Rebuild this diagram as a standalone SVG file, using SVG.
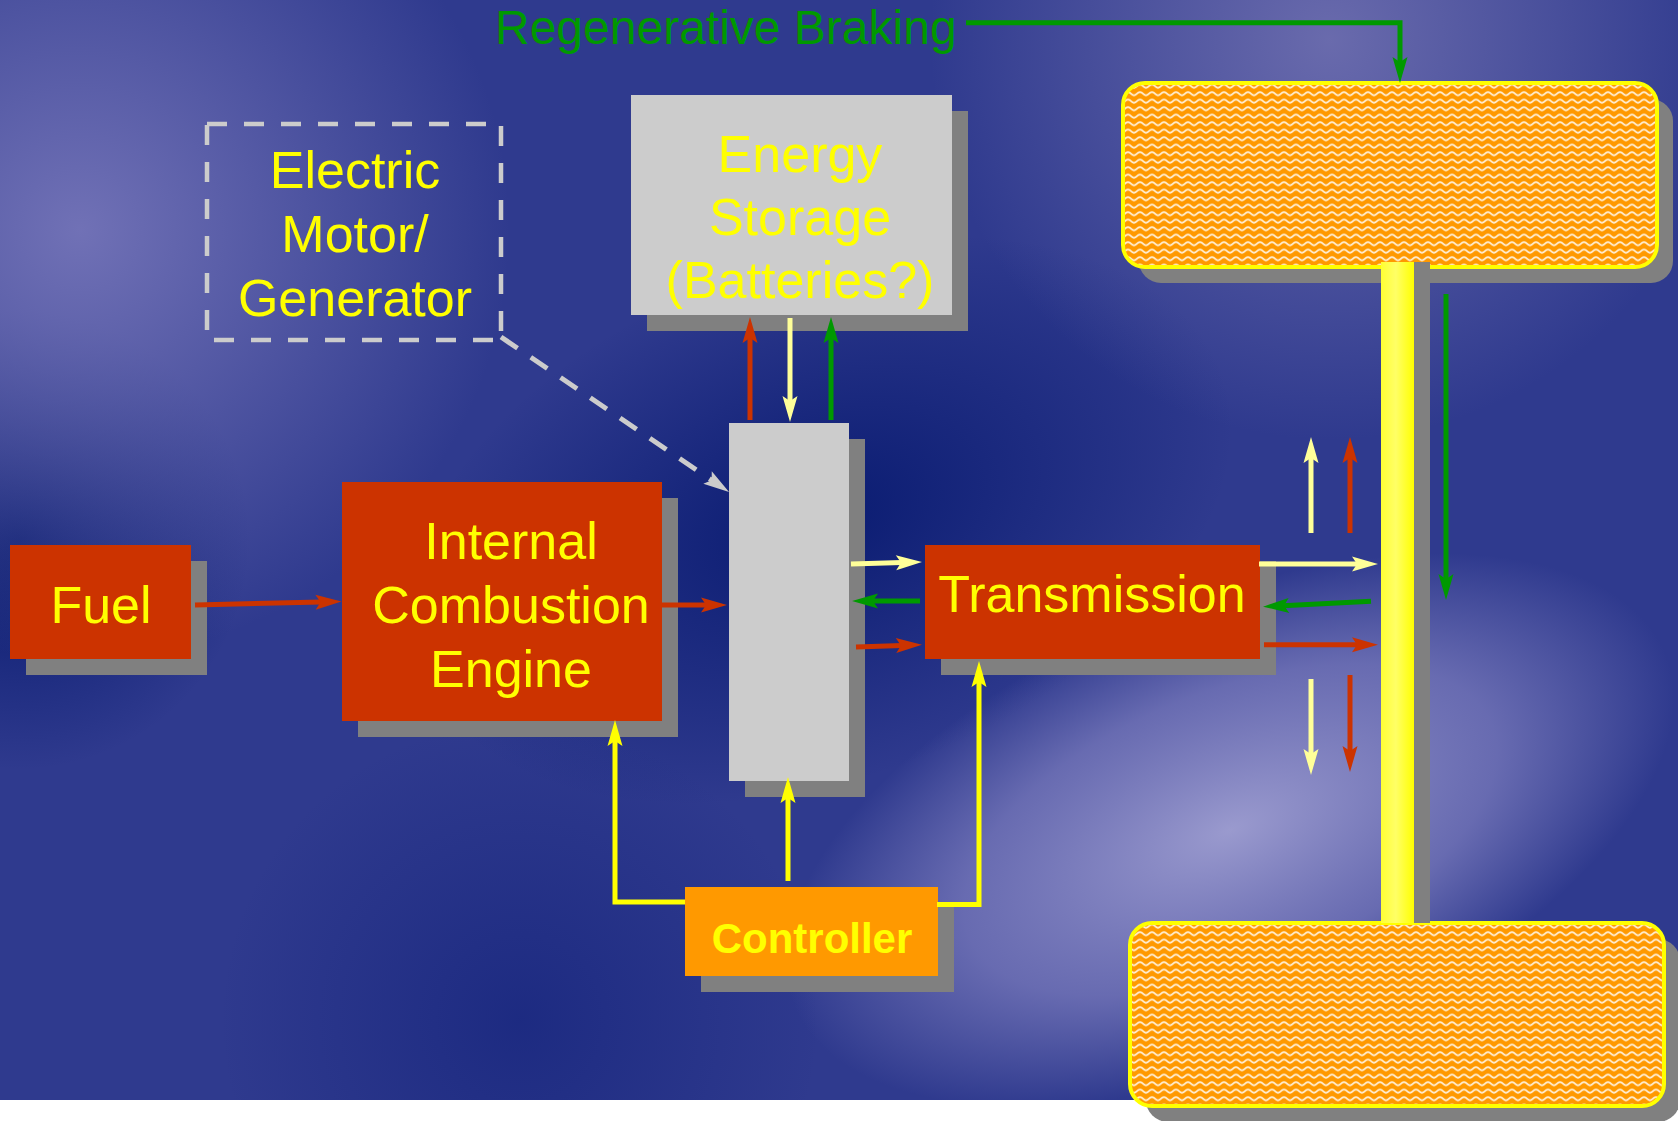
<svg xmlns="http://www.w3.org/2000/svg" width="1678" height="1121" viewBox="0 0 1678 1121">
<style>
.t{font-family:"Liberation Sans",Arial,sans-serif;fill:#FFFF00;font-size:52px;text-anchor:middle}
.sh{fill:#808080}
.red{fill:#CC3300}
.gry{fill:#CCCCCC}
.c{fill:none;stroke-width:5}
.cR{stroke:#CC3300}
.cL{stroke:#FFFF99}
.cG{stroke:#009900}
.cY{stroke:#FFFF00}
.wheel{fill:url(#wave);stroke:#FFFF00;stroke-width:4}
</style>
<defs>
<radialGradient id="g1" gradientUnits="userSpaceOnUse" cx="80" cy="230" r="430"><stop offset="0" stop-color="#7474B8" stop-opacity="0.95"/><stop offset="1" stop-color="#7474B8" stop-opacity="0"/></radialGradient>
<radialGradient id="g2" gradientUnits="userSpaceOnUse" cx="1330" cy="40" r="400"><stop offset="0" stop-color="#7070B0" stop-opacity="0.9"/><stop offset="1" stop-color="#7070B0" stop-opacity="0"/></radialGradient>
<radialGradient id="g3" gradientUnits="userSpaceOnUse" cx="0" cy="0" r="1" gradientTransform="translate(1230 830) rotate(-22) scale(470 230)"><stop offset="0" stop-color="#9A9ACE" stop-opacity="1"/><stop offset="0.6" stop-color="#8080C0" stop-opacity="0.7"/><stop offset="1" stop-color="#8080C0" stop-opacity="0"/></radialGradient>
<radialGradient id="g4" gradientUnits="userSpaceOnUse" cx="0" cy="0" r="1" gradientTransform="translate(820 520) rotate(-20) scale(430 260)"><stop offset="0" stop-color="#081A70" stop-opacity="0.95"/><stop offset="1" stop-color="#081A70" stop-opacity="0"/></radialGradient>
<radialGradient id="g5" gradientUnits="userSpaceOnUse" cx="20" cy="540" r="230"><stop offset="0" stop-color="#05186C" stop-opacity="0.95"/><stop offset="1" stop-color="#05186C" stop-opacity="0"/></radialGradient>
<radialGradient id="g6" gradientUnits="userSpaceOnUse" cx="520" cy="1020" r="300"><stop offset="0" stop-color="#15247C" stop-opacity="0.7"/><stop offset="1" stop-color="#15247C" stop-opacity="0"/></radialGradient>
<linearGradient id="axle" x1="0" y1="0" x2="1" y2="0"><stop offset="0" stop-color="#FFFF33"/><stop offset="0.45" stop-color="#FFFF66"/><stop offset="1" stop-color="#FFFF00"/></linearGradient>
<pattern id="wave" patternUnits="userSpaceOnUse" width="12" height="7.5">
<rect width="12" height="7.5" fill="#FF9900"/>
<path d="M-3,3.7 Q0,0.4 3,3.7 T9,3.7 T15,3.7" fill="none" stroke="#FFFFFF" stroke-opacity="0.85" stroke-width="1.8"/>
</pattern>
<marker id="aR" viewBox="-27 -8 28 16" refX="-20" refY="0" markerWidth="28" markerHeight="16" markerUnits="userSpaceOnUse" orient="auto"><path d="M0,0 L-26,-7.5 L-21,0 L-26,7.5 Z" fill="#CC3300"/></marker>
<marker id="aL" viewBox="-27 -8 28 16" refX="-20" refY="0" markerWidth="28" markerHeight="16" markerUnits="userSpaceOnUse" orient="auto"><path d="M0,0 L-26,-7.5 L-21,0 L-26,7.5 Z" fill="#FFFF99"/></marker>
<marker id="aG" viewBox="-27 -8 28 16" refX="-20" refY="0" markerWidth="28" markerHeight="16" markerUnits="userSpaceOnUse" orient="auto"><path d="M0,0 L-26,-7.5 L-21,0 L-26,7.5 Z" fill="#009900"/></marker>
<marker id="aY" viewBox="-27 -8 28 16" refX="-20" refY="0" markerWidth="28" markerHeight="16" markerUnits="userSpaceOnUse" orient="auto"><path d="M0,0 L-26,-7.5 L-21,0 L-26,7.5 Z" fill="#FFFF00"/></marker>
<marker id="aW" viewBox="-27 -8 28 16" refX="-20" refY="0" markerWidth="28" markerHeight="16" markerUnits="userSpaceOnUse" orient="auto"><path d="M0,0 L-26,-7.5 L-21,0 L-26,7.5 Z" fill="#CCCCCC"/></marker>
</defs>

<g id="background">
<rect x="0" y="0" width="1678" height="1121" fill="#FFFFFF"/>
<rect x="0" y="0" width="1678" height="1100" fill="#2F3A8E"/>
<rect x="0" y="0" width="1678" height="1100" fill="url(#g4)"/>
<rect x="0" y="0" width="1678" height="1100" fill="url(#g5)"/>
<rect x="0" y="0" width="1678" height="1100" fill="url(#g6)"/>
<rect x="0" y="0" width="1678" height="1100" fill="url(#g1)"/>
<rect x="0" y="0" width="1678" height="1100" fill="url(#g2)"/>
<rect x="0" y="0" width="1678" height="1100" fill="url(#g3)"/>
</g>

<g id="wheel-top">
<rect x="1139" y="99" width="534" height="184" rx="22" class="sh"/>
<rect x="1123" y="83" width="534" height="184" rx="22" class="wheel"/>
</g>
<g id="wheel-bottom">
<rect x="1146" y="939" width="534" height="183" rx="22" class="sh"/>
<rect x="1130" y="923" width="534" height="183" rx="22" class="wheel"/>
</g>
<g id="axle-bar">
<rect x="1397" y="262" width="33" height="661" class="sh"/>
<rect x="1381" y="262" width="33" height="661" fill="url(#axle)"/>
</g>

<g id="fuel">
<rect x="26" y="561" width="181" height="114" class="sh"/>
<rect x="10" y="545" width="181" height="114" class="red"/>
<text class="t" x="101" y="623">Fuel</text>
</g>

<g id="ice">
<rect x="358" y="498" width="320" height="239" class="sh"/>
<rect x="342" y="482" width="320" height="239" class="red"/>
<text class="t" x="511" y="559">Internal</text>
<text class="t" x="511" y="623">Combustion</text>
<text class="t" x="511" y="687">Engine</text>
</g>

<g id="energy-storage">
<rect x="647" y="111" width="321" height="220" class="sh"/>
<rect x="631" y="95" width="321" height="220" class="gry"/>
<text class="t" x="800" y="172">Energy</text>
<text class="t" x="800" y="235">Storage</text>
<text class="t" x="800" y="298">(Batteries?)</text>
</g>

<g id="electric-motor">
<rect x="207" y="124" width="294" height="216" fill="none" stroke="#CCCCCC" stroke-width="4.5" stroke-dasharray="20 17"/>
<text class="t" x="355" y="188">Electric</text>
<text class="t" x="355" y="252">Motor/</text>
<text class="t" x="355" y="316">Generator</text>
</g>

<g id="motor-unit">
<rect x="745" y="439" width="120" height="358" class="sh"/>
<rect x="729" y="423" width="120" height="358" class="gry"/>
</g>

<g id="transmission">
<rect x="941" y="561" width="335" height="114" class="sh"/>
<rect x="925" y="545" width="335" height="114" class="red"/>
<text class="t" x="1092" y="612">Transmission</text>
</g>

<g id="controller">
<rect x="701" y="903" width="253" height="89" class="sh"/>
<rect x="685" y="887" width="253" height="89" fill="#FF9900"/>
<text class="t" x="812" y="953" style="font-size:42px;font-weight:bold">Controller</text>
</g>

<g id="regen-label">
<text x="495" y="44" style="font-family:'Liberation Sans',Arial,sans-serif;font-size:48px;fill:#009900">Regenerative Braking</text>
</g>

<g id="connectors">
<line class="c cR" x1="195" y1="605" x2="321.5" y2="602" marker-end="url(#aR)"/>
<line class="c cR" x1="662" y1="605" x2="707" y2="605" marker-end="url(#aR)"/>
<line class="c cR" x1="750" y1="420" x2="750" y2="337" marker-end="url(#aR)"/>
<line class="c cL" x1="790" y1="318" x2="790" y2="402" marker-end="url(#aL)"/>
<line class="c cG" x1="831" y1="420" x2="831" y2="337" marker-end="url(#aG)"/>
<line class="c" stroke="#CCCCCC" stroke-width="4.5" stroke-dasharray="20 16" x1="501" y1="337" x2="712.5" y2="480.8" marker-end="url(#aW)"/>
<line class="c cL" x1="851" y1="564" x2="902" y2="562.5" marker-end="url(#aL)"/>
<line class="c cG" x1="920" y1="601" x2="872" y2="601" marker-end="url(#aG)"/>
<line class="c cR" x1="856" y1="647" x2="902" y2="645.4" marker-end="url(#aR)"/>
<line class="c cL" x1="1259" y1="564" x2="1358" y2="564" marker-end="url(#aL)"/>
<line class="c cG" x1="1371" y1="601.3" x2="1283" y2="605.7" marker-end="url(#aG)"/>
<line class="c cR" x1="1264" y1="644.7" x2="1358" y2="644.7" marker-end="url(#aR)"/>
<line class="c cL" x1="1311" y1="533" x2="1311" y2="457" marker-end="url(#aL)"/>
<line class="c cR" x1="1350" y1="533" x2="1350" y2="457" marker-end="url(#aR)"/>
<line class="c cL" x1="1311" y1="679" x2="1311" y2="755" marker-end="url(#aL)"/>
<line class="c cR" x1="1350" y1="675" x2="1350" y2="752" marker-end="url(#aR)"/>
<line class="c cG" x1="1446" y1="294" x2="1446" y2="580" marker-end="url(#aG)"/>
<polyline class="c cG" points="966,22.7 1400,22.7 1400,63" marker-end="url(#aG)"/>
<polyline class="c cY" points="685,902 615,902 615,740" marker-end="url(#aY)"/>
<line class="c cY" x1="788" y1="881" x2="788" y2="797" marker-end="url(#aY)"/>
<polyline class="c cY" points="937,904.5 979,904.5 979,681" marker-end="url(#aY)"/>
</g>
</svg>
